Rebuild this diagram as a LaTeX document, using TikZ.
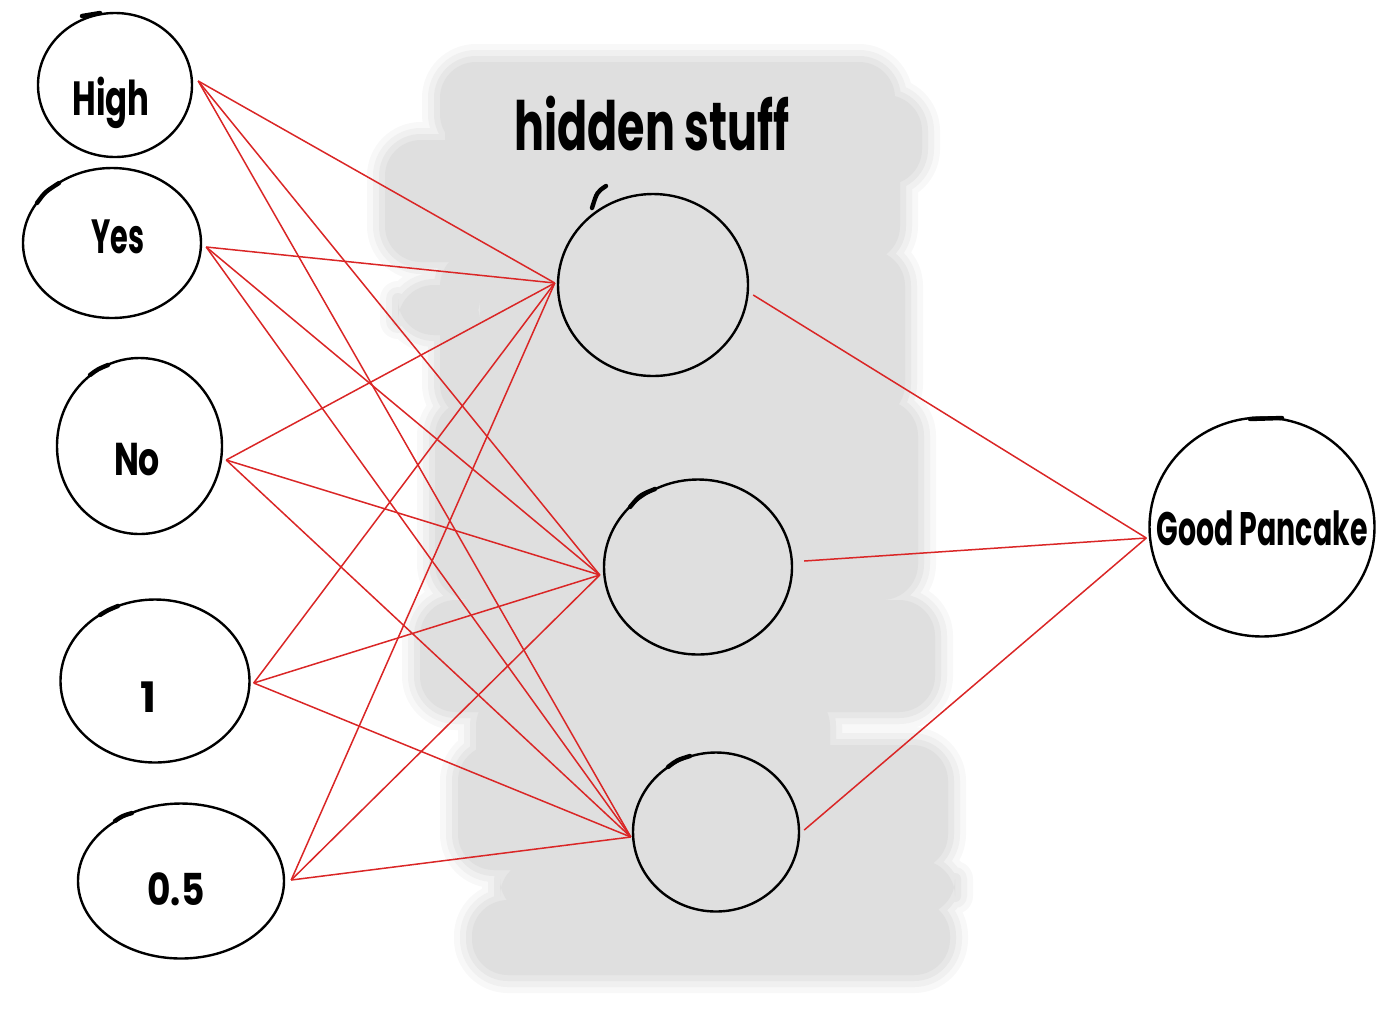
\documentclass[tikz,border=0pt]{standalone}
\usepackage{fontspec}
\usepackage{graphicx}
\usetikzlibrary{shapes.geometric}
\newfontfamily\hand{Poppins}
\definecolor{blobA}{RGB}{248,248,248}
\definecolor{blobB}{RGB}{240,240,240}
\definecolor{blobD}{RGB}{231,231,231}
\definecolor{blobC}{RGB}{223,223,223}
\definecolor{wirered}{RGB}{218,38,38}
\newcommand\hw[2]{\resizebox{#1}{\height}{#2}}
\newcommand\blobshape{%
 (440,62) rectangle (895,150)
 (445,95) rectangle (922,185)
 (385,140) rectangle (900,262)
 (440,250) rectangle (905,420)
 (398,285) rectangle (480,335)
 (435,400) rectangle (918,600)
 (420,600) rectangle (935,712)
 (476,690) rectangle (830,790)
 (458,745) rectangle (948,870)
 (500,860) rectangle (955,915)
 (472,900) rectangle (950,975)}
\begin{document}
\begin{tikzpicture}[x=0.5pt,y=-0.5pt,
  neuron/.style={ellipse, draw=black, line width=1.2pt, inner sep=0pt},
  lbl/.style={font={\hand\bfseries\fontsize{24}{28}\selectfont}, anchor=base, inner sep=0pt},
  wire/.style={draw=wirered, line width=0.75pt},
  tick/.style={draw=black, line width=2.2pt, line cap=round}]
\useasboundingbox (0,0) rectangle (1400,1034);
% soft grey brush area
\path[fill=blobA, draw=blobA, line width=18pt, line join=round, rounded corners=18pt] \blobshape;
\path[fill=blobB, draw=blobB, line width=12pt, line join=round, rounded corners=18pt] \blobshape;
\path[fill=blobD, draw=blobD, line width=6pt, line join=round, rounded corners=18pt] \blobshape;
\path[fill=blobC, rounded corners=18pt] \blobshape;
% neurons
\node[neuron, minimum width=77pt, minimum height=72pt] (High) at (115,85) {};
\node[neuron, minimum width=89pt, minimum height=75pt] (Yes) at (112,243) {};
\node[neuron, minimum width=82.5pt, minimum height=88pt] (No) at (139.5,446) {};
\node[neuron, minimum width=94.5pt, minimum height=81.5pt] (One) at (155,681) {};
\node[neuron, minimum width=103pt, minimum height=77.5pt] (Half) at (181,881) {};
\node[neuron, minimum width=95pt, minimum height=91pt] (H1) at (653,285) {};
\node[neuron, minimum width=94pt, minimum height=87.5pt] (H2) at (698,567) {};
\node[neuron, minimum width=83pt, minimum height=79.5pt] (H3) at (716,832) {};
\node[neuron, minimum width=112.5pt, minimum height=109.5pt] (GP) at (1262,527) {};
% pen-start ticks
\draw[tick] (82,16) -- (100,13);
\draw[tick] (37,203) .. controls (45,192) .. (59,183);
\draw[tick] (90,375) .. controls (98,369) .. (108,365);
\draw[tick] (100,615) .. controls (108,610) .. (118,606);
\draw[tick] (115,821) .. controls (122,816) .. (132,813);
\draw[tick] (592,208) .. controls (597,192) .. (606,186);
\draw[tick] (630,507) .. controls (640,495) .. (655,489);
\draw[tick] (668,767) .. controls (677,760) .. (690,756);
\draw[tick] (1250,419) -- (1282,418);
% labels
\node[lbl] (tHigh) at (111,115) {\hw{38.5pt}{High}};
\node[lbl] (tYes) at (118,253) {\hw{26.5pt}{Yes}};
\node[lbl, font={\hand\bfseries\fontsize{23}{28}\selectfont}] (tNo) at (137,475) {\hw{23pt}{No}};
\node[lbl, font={\hand\bfseries\fontsize{21}{26}\selectfont}] (tOne) at (148,712) {1};
\node[lbl, font={\hand\bfseries\fontsize{22}{26}\selectfont}] (tHalf) at (176,905) {\hw{28.5pt}{0.5}};
\node[lbl, font={\hand\bfseries\fontsize{23.5}{28}\selectfont}] (tGP) at (1262,545) {\hw{105.5pt}{Good Pancake}};
\node[lbl, font={\hand\bfseries\fontsize{34}{40}\selectfont}] (title) at (652,150) {\hw{137.5pt}{hidden stuff}};
% connection points
\coordinate (oHigh) at ([shift={(5,-4)}]High.east);
\coordinate (oYes) at ([shift={(4,4)}]Yes.east);
\coordinate (oNo) at ([shift={(3,14)}]No.east);
\coordinate (oOne) at ([shift={(3,2)}]One.east);
\coordinate (oHalf) at ([shift={(6,-1)}]Half.east);
\coordinate (iH1) at ([shift={(-2,-2)}]H1.west);
\coordinate (iH2) at ([shift={(-3,8)}]H2.west);
\coordinate (iH3) at ([shift={(-1,5)}]H3.west);
\coordinate (oH1) at ([shift={(4,10)}]H1.east);
\coordinate (oH2) at ([shift={(11,-6)}]H2.east);
\coordinate (oH3) at ([shift={(4,-2)}]H3.east);
\coordinate (iGP) at ([shift={(-2,11)}]GP.west);
% wires
\foreach \s in {oHigh,oYes,oNo,oOne,oHalf}{
  \foreach \t in {iH1,iH2,iH3}{
    \draw[wire] (\s) -- (\t);
  }
}
\foreach \s in {oH1,oH2,oH3}{
  \draw[wire] (\s) -- (iGP);
}
\end{tikzpicture}
\end{document}
